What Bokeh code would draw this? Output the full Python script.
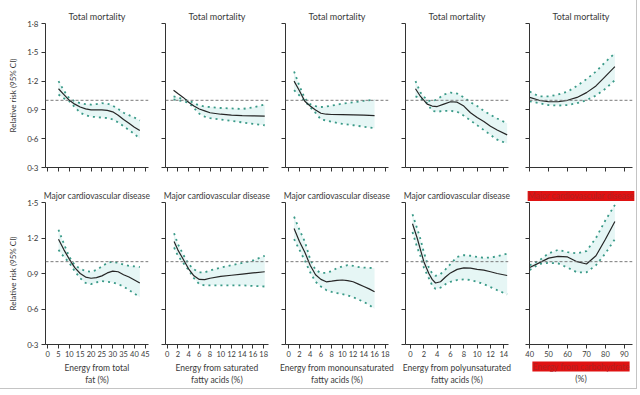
from bokeh.plotting import figure
from bokeh.layouts import gridplot
from bokeh.models import Span, Title, FixedTicker, CustomJSTickFormatter
from bokeh.embed import file_html
from bokeh.resources import INLINE

FONT = "Lato"

# ---------------- data ----------------
row_titles = ["Total mortality", "Major cardiovascular disease"]
x_labels = ["Energy from total\nfat (%)",
            "Energy from saturated\nfatty acids (%)",
            "Energy from monounsaturated\nfatty acids (%)",
            "Energy from polyunsaturated\nfatty acids (%)",
            "Energy from carbohydrate\n(%)"]
x_ticks = [[0, 5, 10, 15, 20, 25, 30, 35, 40, 45],
           [0, 2, 4, 6, 8, 10, 12, 14, 16, 18],
           [0, 2, 4, 6, 8, 10, 12, 14, 16, 18],
           [0, 2, 4, 6, 8, 10, 12, 14],
           [40, 50, 60, 70, 80, 90]]
x_ranges = [(-1.0, 46.5), (-0.3, 18.9), (-0.6, 18.6), (-0.75, 14.7), (39.9, 94.3)]
y_ticks_top = [0.3, 0.6, 0.9, 1.2, 1.5, 1.8]
y_ticks_bottom = [0.3, 0.6, 0.9, 1.2, 1.5]

# Total mortality
tm_fat_x = [5, 7.5, 10, 12.5, 15, 17.5, 20, 22.5, 25, 27.5, 30, 32.5, 35, 37.5, 40, 42.5]
tm_fat_rr = [1.12, 1.06, 1.0, 0.96, 0.93, 0.91, 0.90, 0.90, 0.90, 0.895, 0.88, 0.845, 0.80, 0.76, 0.72, 0.685]
tm_fat_hi = [1.2, 1.1, 1.02, 0.99, 0.97, 0.96, 0.955, 0.96, 0.97, 0.965, 0.945, 0.91, 0.87, 0.845, 0.82, 0.79]
tm_fat_lo = [1.06, 1.02, 0.99, 0.93, 0.87, 0.845, 0.83, 0.825, 0.82, 0.815, 0.80, 0.77, 0.73, 0.69, 0.65, 0.60]

tm_sfa_x = [1.2, 2, 3, 4, 5, 6, 7, 8, 10, 12, 14, 16, 18.2]
tm_sfa_rr = [1.105, 1.07, 1.03, 0.98, 0.94, 0.91, 0.89, 0.87, 0.855, 0.845, 0.84, 0.838, 0.835]
tm_sfa_hi = [1.04, 1.03, 1.01, 1.0, 0.97, 0.946, 0.935, 0.93, 0.92, 0.915, 0.91, 0.925, 0.955]
tm_sfa_lo = [1.01, 1.0, 0.99, 0.975, 0.92, 0.86, 0.83, 0.815, 0.80, 0.785, 0.77, 0.755, 0.74]

tm_mufa_x = [1, 2, 3, 4, 5, 6, 7, 8, 10, 12, 14, 16]
tm_mufa_rr = [1.2, 1.1, 0.99, 0.94, 0.9, 0.865, 0.855, 0.852, 0.85, 0.848, 0.845, 0.84]
tm_mufa_hi = [1.30, 1.15, 1.02, 0.96, 0.94, 0.93, 0.935, 0.945, 0.965, 0.98, 0.995, 1.005]
tm_mufa_lo = [1.105, 1.05, 0.99, 0.93, 0.87, 0.80, 0.79, 0.775, 0.755, 0.74, 0.725, 0.71]

tm_pufa_x = [0.75, 1.5, 2.5, 3.25, 4, 5, 6, 7, 8, 9, 10, 11, 12, 13, 14.5]
tm_pufa_rr = [1.12, 1.04, 0.96, 0.94, 0.935, 0.96, 0.985, 0.98, 0.94, 0.87, 0.82, 0.78, 0.73, 0.69, 0.64]
tm_pufa_hi = [1.2, 1.08, 1.0, 0.99, 1.01, 1.06, 1.08, 1.07, 1.03, 0.98, 0.94, 0.89, 0.85, 0.81, 0.76]
tm_pufa_lo = [1.04, 1.02, 0.97, 0.89, 0.88, 0.89, 0.89, 0.88, 0.84, 0.79, 0.74, 0.69, 0.64, 0.59, 0.55]

tm_carb_x = [40, 45, 50, 55, 60, 65, 70, 75, 80, 85]
tm_carb_rr = [1.03, 1.0, 0.985, 0.985, 1.0, 1.03, 1.08, 1.15, 1.25, 1.35]
tm_carb_hi = [1.09, 1.04, 1.04, 1.06, 1.09, 1.15, 1.22, 1.3, 1.4, 1.49]
tm_carb_lo = [0.99, 0.97, 0.95, 0.945, 0.95, 0.97, 1.0, 1.05, 1.12, 1.21]

# Major cardiovascular disease
cv_fat_x = [5, 7.5, 10, 12.5, 15, 17.5, 20, 22.5, 25, 27.5, 30, 32.5, 35, 37.5, 40, 42.5]
cv_fat_rr = [1.19, 1.1, 1.02, 0.95, 0.9, 0.87, 0.86, 0.865, 0.88, 0.905, 0.92, 0.915, 0.89, 0.87, 0.845, 0.82]
cv_fat_hi = [1.27, 1.15, 1.04, 0.97, 0.94, 0.92, 0.915, 0.93, 0.96, 0.99, 1.0, 0.99, 0.975, 0.965, 0.96, 0.955]
cv_fat_lo = [1.1, 1.04, 0.99, 0.92, 0.86, 0.82, 0.81, 0.825, 0.835, 0.83, 0.825, 0.81, 0.79, 0.76, 0.73, 0.70]

cv_sfa_x = [1.3, 2, 3, 4, 5, 6, 7, 8, 10, 12, 14, 16, 18.2]
cv_sfa_rr = [1.17, 1.1, 1.02, 0.94, 0.88, 0.85, 0.848, 0.86, 0.875, 0.885, 0.895, 0.905, 0.915]
cv_sfa_hi = [1.24, 1.15, 1.06, 0.98, 0.935, 0.91, 0.91, 0.925, 0.95, 0.97, 0.99, 1.01, 1.05]
cv_sfa_lo = [1.12, 1.05, 0.99, 0.93, 0.86, 0.81, 0.80, 0.80, 0.80, 0.80, 0.80, 0.795, 0.79]

cv_mufa_x = [1, 2, 3, 4, 5, 6, 7, 8, 9, 10, 11, 12, 13, 14, 15, 16]
cv_mufa_rr = [1.28, 1.17, 1.08, 0.97, 0.89, 0.85, 0.83, 0.835, 0.842, 0.845, 0.84, 0.83, 0.81, 0.79, 0.77, 0.745]
cv_mufa_hi = [1.38, 1.27, 1.17, 1.02, 0.93, 0.905, 0.905, 0.92, 0.945, 0.96, 0.97, 0.965, 0.955, 0.95, 0.948, 0.945]
cv_mufa_lo = [1.19, 1.1, 1.01, 0.91, 0.83, 0.79, 0.76, 0.745, 0.735, 0.725, 0.715, 0.70, 0.68, 0.66, 0.635, 0.60]

cv_pufa_x = [0.3, 1, 1.5, 2, 2.75, 3.25, 3.75, 4.5, 5.25, 6, 7, 8, 9, 10, 11, 12, 13, 14.5]
cv_pufa_rr = [1.32, 1.2, 1.1, 1.0, 0.9, 0.85, 0.82, 0.83, 0.87, 0.905, 0.935, 0.948, 0.945, 0.935, 0.928, 0.915, 0.90, 0.883]
cv_pufa_hi = [1.40, 1.28, 1.19, 1.08, 0.95, 0.9, 0.88, 0.895, 0.935, 0.98, 1.04, 1.055, 1.05, 1.04, 1.032, 1.035, 1.045, 1.068]
cv_pufa_lo = [1.25, 1.12, 1.046, 0.95, 0.86, 0.8, 0.77, 0.78, 0.81, 0.83, 0.845, 0.85, 0.845, 0.83, 0.81, 0.785, 0.76, 0.723]

cv_carb_x = [40, 45, 50, 55, 60, 65, 70, 75, 80, 85]
cv_carb_rr = [0.95, 0.99, 1.03, 1.045, 1.04, 1.0, 0.98, 1.05, 1.19, 1.34]
cv_carb_hi = [0.97, 1.01, 1.07, 1.1, 1.08, 1.07, 1.09, 1.2, 1.35, 1.48]
cv_carb_lo = [0.93, 0.98, 0.99, 0.985, 0.95, 0.91, 0.91, 0.97, 1.07, 1.19]

panels = [
    [(tm_fat_x, tm_fat_rr, tm_fat_hi, tm_fat_lo),
     (tm_sfa_x, tm_sfa_rr, tm_sfa_hi, tm_sfa_lo),
     (tm_mufa_x, tm_mufa_rr, tm_mufa_hi, tm_mufa_lo),
     (tm_pufa_x, tm_pufa_rr, tm_pufa_hi, tm_pufa_lo),
     (tm_carb_x, tm_carb_rr, tm_carb_hi, tm_carb_lo)],
    [(cv_fat_x, cv_fat_rr, cv_fat_hi, cv_fat_lo),
     (cv_sfa_x, cv_sfa_rr, cv_sfa_hi, cv_sfa_lo),
     (cv_mufa_x, cv_mufa_rr, cv_mufa_hi, cv_mufa_lo),
     (cv_pufa_x, cv_pufa_rr, cv_pufa_hi, cv_pufa_lo),
     (cv_carb_x, cv_carb_rr, cv_carb_hi, cv_carb_lo)],
]

# ---------------- styling ----------------
AXIS_C = "#333333"
CI_C = "#3a9a88"
FILL_C = "#e6f6f5"
LINE_C = "#262626"
REF_C = "#7a7a7a"
TEXT_C = "#3a3a3a"
RED_BG = "#e01212"
RED_TX = "#b42020"

frame_w = 103
left_b = [45, 9, 9, 9, 13]
right_b = [8, 8, 8, 8, 4]

dot_fmt = CustomJSTickFormatter(code="return tick.toFixed(1).replace('.', '\u00b7');")


def make_panel(r, c):
    xs, rr, hi, lo = panels[r][c]
    top = r == 0
    frame_h = 144 if top else 142
    b_top = 23 if top else 17
    b_bot = 18 if top else 44
    y_rng = (0.3, 1.8) if top else (0.3, 1.5)
    p = figure(frame_width=frame_w, frame_height=frame_h,
               x_range=x_ranges[c], y_range=y_rng,
               output_backend="svg", toolbar_location=None, tools="",
               min_border_left=left_b[c], min_border_right=right_b[c],
               min_border_top=b_top, min_border_bottom=b_bot,
               background_fill_color="white", border_fill_color="white",
               outline_line_color=None)
    p.grid.visible = False

    p.title.text = row_titles[r]
    p.title.align = "center"
    p.title.text_font = FONT
    p.title.text_font_style = "normal"
    p.title.text_font_size = "9px" if top else "8.5px"
    p.title.text_color = TEXT_C
    p.title.standoff = 3
    if r == 1 and c == 4:
        p.title.background_fill_color = RED_BG
        p.title.text_color = RED_TX

    # shaded CI band, CI dotted lines, central estimate
    p.varea(x=xs, y1=lo, y2=hi, fill_color=FILL_C, fill_alpha=1.0)
    p.add_layout(Span(location=1.0, dimension="width", line_color=REF_C,
                      line_dash="3 2", line_width=1))
    p.line(xs, hi, line_color=CI_C, line_width=1.8, line_dash="2 4")
    p.line(xs, lo, line_color=CI_C, line_width=1.8, line_dash="2 4")
    p.line(xs, rr, line_color=LINE_C, line_width=1.2)

    for ax in (p.xaxis[0], p.yaxis[0]):
        ax.axis_line_color = AXIS_C
        ax.major_tick_line_color = AXIS_C
        ax.major_tick_out = 4
        ax.major_tick_in = 0
        ax.minor_tick_line_color = None
        ax.major_label_text_font = FONT
        ax.major_label_text_font_size = "7.5px"
        ax.major_label_text_color = TEXT_C
        ax.axis_label_text_font = FONT
        ax.axis_label_text_font_style = "normal"
        ax.axis_label_text_color = TEXT_C

    xa = p.xaxis[0]
    xa.ticker = FixedTicker(ticks=x_ticks[c])
    xa.major_label_standoff = 2
    if top:
        xa.major_label_text_font_size = "0px"
        xa.major_label_standoff = 0
        xa.formatter = CustomJSTickFormatter(code="return '';")
    elif c < 4:
        xa.axis_label = x_labels[c]
        xa.axis_label_text_font_size = "8.5px"
        xa.axis_label_standoff = 3
    else:
        # first line of this label sits under a red box in the reference
        line1, line2 = x_labels[c].split("\n")
        t1 = Title(text=line1, align="center", text_font=FONT, text_font_style="normal",
                   text_font_size="8.5px", text_color=RED_TX,
                   background_fill_color=RED_BG, standoff=0)
        t2 = Title(text=line2, align="center", text_font=FONT, text_font_style="normal",
                   text_font_size="8.5px", text_color=TEXT_C, standoff=0)
        p.add_layout(t1, "below")
        p.add_layout(t2, "below")

    ya = p.yaxis[0]
    ya.ticker = FixedTicker(ticks=y_ticks_top if top else y_ticks_bottom)
    ya.major_label_standoff = 3
    if c == 0:
        ya.formatter = dot_fmt
        ya.major_label_text_font_size = "8px"
        ya.axis_label = "Relative risk (95% CI)"
        ya.axis_label_text_font_size = "8px"
        ya.axis_label_standoff = 6
    else:
        ya.major_label_text_font_size = "0px"
        ya.major_label_standoff = 0
        ya.formatter = CustomJSTickFormatter(code="return '';")
    return p


rows = [[make_panel(r, c) for c in range(5)] for r in range(2)]
g = gridplot(rows, toolbar_location=None)
g.styles = {"outline": "1px solid #c4c4c4"}

open("out.html", "w").write(file_html(g, INLINE))
